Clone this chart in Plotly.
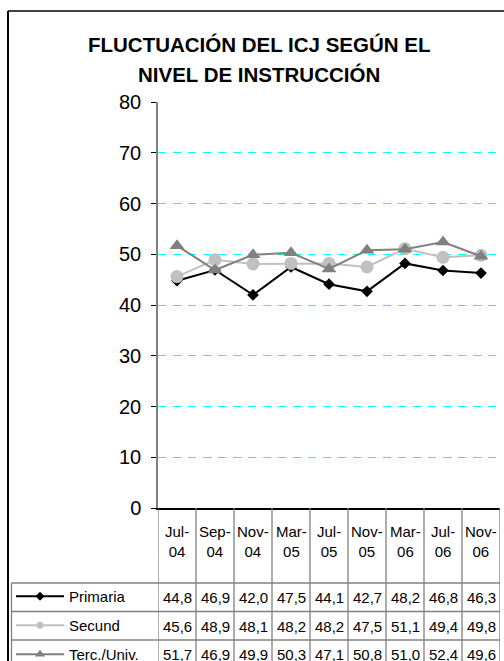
import plotly.graph_objects as go

categories = ["Jul-04", "Sep-04", "Nov-04", "Mar-05", "Jul-05", "Nov-05", "Mar-06", "Jul-06", "Nov-06"]
primaria = [44.8, 46.9, 42.0, 47.5, 44.1, 42.7, 48.2, 46.8, 46.3]
secund = [45.6, 48.9, 48.1, 48.2, 48.2, 47.5, 51.1, 49.4, 49.8]
terc = [51.7, 46.9, 49.9, 50.3, 47.1, 50.8, 51.0, 52.4, 49.6]
series_names = ["Primaria", "Secund", "Terc./Univ."]
y_ticks = [0, 10, 20, 30, 40, 50, 60, 70, 80]
title_lines = ["FLUCTUACIÓN DEL ICJ SEGÚN EL", "NIVEL DE INSTRUCCIÓN"]

W, H = 504, 661
L, R, T, B = 158, 500, 102, 508
FONT = "Liberation Sans, Arial, sans-serif"


def PX(px):
    return (px - L) / (R - L)


def PY(py):
    return (B - py) / (B - T)


x_idx = list(range(len(categories)))
styles = [
    dict(color="#000000", symbol="diamond", size=9, lsize=7),
    dict(color="#C0C0C0", symbol="circle", size=13, lsize=7),
    dict(color="#808080", symbol="triangle-up", size=13, lsize=9),
]
data = [primaria, secund, terc]

fig = go.Figure()
for name, vals, st in zip(series_names, data, styles):
    fig.add_trace(go.Scatter(
        x=x_idx, y=vals, mode="lines+markers", name=name, showlegend=False,
        line=dict(color=st["color"], width=2),
        marker=dict(symbol=st["symbol"], size=st["size"], color=st["color"],
                    line=dict(width=0)),
        cliponaxis=False,
    ))
# legend entries (shown in the data table)
for i, (name, st) in enumerate(zip(series_names, styles)):
    fig.add_trace(go.Scatter(
        x=[None], y=[None], mode="lines+markers", name=name, legendgroup=f"g{i}",
        line=dict(color=st["color"], width=2),
        marker=dict(symbol=st["symbol"], size=st["lsize"], color=st["color"], line=dict(width=0)),
    ))

shapes = []
line_gray = dict(color="#808080", width=1.3)
# chart outer border
shapes.append(dict(type="line", xref="paper", yref="paper", x0=PX(8), x1=PX(510), y0=PY(11), y1=PY(11),
                   line=dict(color="#000000", width=1.3)))
shapes.append(dict(type="line", xref="paper", yref="paper", x0=PX(8), x1=PX(8), y0=PY(11), y1=PY(670),
                   line=dict(color="#000000", width=2)))
# table vertical lines
n = len(categories)
for i in range(n + 1):
    shapes.append(dict(type="line", xref="x", yref="paper", x0=i - 0.5, x1=i - 0.5, y0=0, y1=PY(670),
                       line=line_gray))
# table left border
shapes.append(dict(type="line", xref="paper", yref="paper", x0=PX(11.5), x1=PX(11.5), y0=PY(583), y1=PY(670),
                   line=line_gray))
row_tops = [583, 611.5, 640]
for ry in row_tops:
    shapes.append(dict(type="line", xref="paper", yref="paper", x0=PX(11.5), x1=1, y0=PY(ry), y1=PY(ry),
                       line=line_gray))

annotations = []
annotations.append(dict(text="<b>" + title_lines[0] + "</b>", xref="paper", yref="paper", x=PX(259), y=PY(45),
                        xanchor="center", yanchor="middle", showarrow=False,
                        font=dict(family=FONT, size=20.5, color="#000000")))
annotations.append(dict(text="<b>" + title_lines[1] + "</b>", xref="paper", yref="paper", x=PX(259), y=PY(75),
                        xanchor="center", yanchor="middle", showarrow=False,
                        font=dict(family=FONT, size=20.5, color="#000000")))
for i, c in enumerate(categories):
    a, b = c.split("-")
    annotations.append(dict(text=a + "-<br>" + b, xref="x", yref="paper", x=i, y=PY(541),
                            xanchor="center", yanchor="middle", showarrow=False,
                            font=dict(family=FONT, size=15, color="#000000")))
row_centers = [597.5, 626, 654.5]
for vals, rc in zip(data, row_centers):
    for i, v in enumerate(vals):
        annotations.append(dict(text=f"{v:.1f}".replace(".", ","), xref="x", yref="paper", x=i, y=PY(rc),
                                xanchor="center", yanchor="middle", showarrow=False,
                                font=dict(family=FONT, size=15, color="#000000")))

fig.update_layout(
    width=W, height=H,
    margin=dict(l=L, r=W - R, t=T, b=H - B, autoexpand=False),
    paper_bgcolor="#FFFFFF", plot_bgcolor="#FFFFFF",
    font=dict(family=FONT, size=15, color="#000000"),
    shapes=shapes, annotations=annotations,
    showlegend=True,
    legend=dict(x=PX(11), y=PY(580), xanchor="left", yanchor="top", bgcolor="rgba(0,0,0,0)",
                font=dict(family=FONT, size=15, color="#000000"), tracegroupgap=6.5, itemwidth=48,
                borderwidth=0),
    xaxis=dict(range=[-0.5, n - 0.5], showticklabels=False, ticks="", showgrid=False, zeroline=False,
               showline=True, linecolor="#000000", linewidth=1.5, fixedrange=True),
    yaxis=dict(range=[0, 80.01], tickvals=y_ticks, ticks="outside", ticklen=5, tickcolor="#000000",
               showline=True, linecolor="#808080", linewidth=1.5, zeroline=False,
               showgrid=True, gridcolor="#00FFFF", gridwidth=1, griddash="8px,7px",
               tickfont=dict(family=FONT, size=20, color="#000000"), ticklabelstandoff=6,
               fixedrange=True),
)

fig.write_html("out.html", config={"displayModeBar": False},
               post_script="document.body.style.margin='0';document.body.style.overflow='hidden';")
